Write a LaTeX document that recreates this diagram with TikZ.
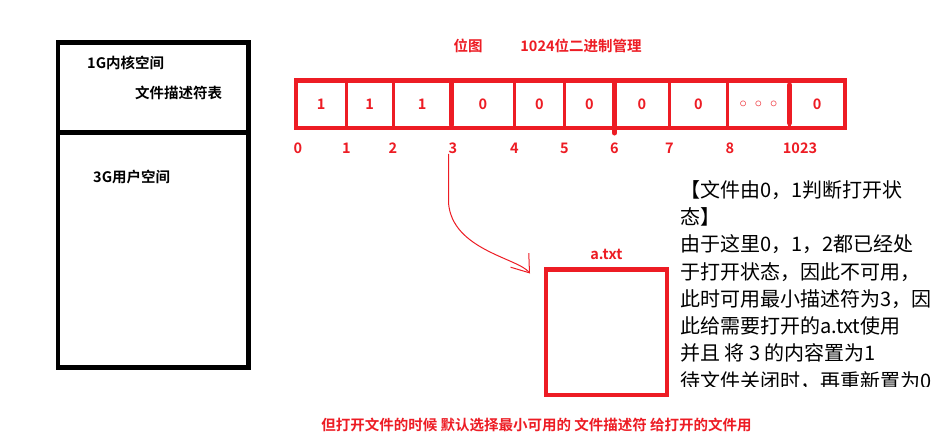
\documentclass[tikz,border=0pt]{standalone}
\usepackage{fontspec}
\newfontfamily\cjk{Noto Sans CJK SC}[BoldFont={Noto Sans CJK SC Bold}]
\usepackage{tikz}
\usetikzlibrary{positioning,arrows.meta}
\definecolor{paintred}{HTML}{ED1C24}

\tikzset{
  bit/.style={draw=paintred, line width=3pt, inner sep=0pt, outer sep=0pt,
    minimum height=47.5pt, text=paintred, font=\cjk\bfseries\fontsize{14.5}{17}\selectfont},
  idx/.style={inner sep=0pt, text=paintred, font=\cjk\bfseries\fontsize{14.5}{17}\selectfont},
  mem/.style={draw, line width=4.5pt, inner sep=0pt, outer sep=0pt, minimum width=190.5pt},
  tag/.style={inner sep=0pt, anchor=west, font=\cjk\bfseries\fontsize{14.5}{17}\selectfont},
  bar/.style={draw=paintred, line width=5pt, line cap=round},
  note/.style={inner sep=0pt, align=left, font=\cjk\fontsize{20}{27.3}\selectfont}
}

\begin{document}
\begin{tikzpicture}[x=1pt,y=-1pt]
  \useasboundingbox[fill=white] (0,0) rectangle (944,439);
  % address space
  \node[mem, minimum height=90pt, anchor=north west] (kernel) at (58,42.5) {};
  \node[mem, minimum height=235pt, below=0pt of kernel] (user) {};
  \node[tag] (kname) at (87,63) {1G内核空间};
  \node[tag] (fdtab) at (135,93) {文件描述符表};
  \node[tag] (uname) at (93,177) {3G用户空间};
  % bitmap
  \node[idx] (bmap) at (468,46) {位图};
  \node[idx] (bits) at (581,46) {1024位二进制管理};
  \node[bit, minimum width=50.5pt, anchor=north west] (b0) at (296,80.5) {1};
  \node[bit, minimum width=46.5pt, right=0pt of b0] (b1) {1};
  \node[bit, minimum width=58.5pt, right=0pt of b1] (b2) {1};
  \node[bit, minimum width=63pt, right=0pt of b2]   (b3) {0};
  \node[bit, minimum width=50pt, right=0pt of b3]   (b4) {0};
  \node[bit, minimum width=50pt, right=0pt of b4]   (b5) {0};
  \node[bit, minimum width=55pt, right=0pt of b5]   (b6) {0};
  \node[bit, minimum width=58pt, right=0pt of b6]   (b7) {0};
  \node[bit, minimum width=62pt, right=0pt of b7]   (b8) {${\circ}\;\;{\circ}\;\;{\circ}$};
  \node[bit, minimum width=55.5pt, right=0pt of b8] (b9) {0};
  \draw[paintred, line width=4.5pt] (b0.north west) rectangle (b9.south east);
  \draw[bar] ([yshift=-2.5pt]b3.north west) -- ([yshift=3pt]b3.south west);
  \draw[bar] ([yshift=-2.5pt]b6.north west) -- ([yshift=-5pt]b6.south west);
  \draw[bar] ([yshift=-4.5pt]b9.north west) -- ([yshift=5pt]b9.south west);
  \node[idx, below=14.5pt of b0.south west, xshift=2pt] (n0) {0};
  \node[idx, below=14.5pt of b1.south west] (n1) {1};
  \node[idx, below=14.5pt of b2.south west] (n2) {2};
  \node[idx, below=14.5pt of b3.south west, xshift=1.5pt] (n3) {3};
  \node[idx, below=14.5pt of b4.south west] (n4) {4};
  \node[idx, below=14.5pt of b5.south west] (n5) {5};
  \node[idx, below=14.5pt of b6.south west] (n6) {6};
  \node[idx, below=14.5pt of b7.south west] (n7) {7};
  \node[idx, below=14.5pt of b8.south west, xshift=2.5pt] (n8) {8};
  \node[idx, below=14.5pt of b9.south west, xshift=10.5pt] (n1023) {1023};
  % the file
  \node[draw=paintred, line width=4.3pt, inner sep=0pt, outer sep=0pt,
    minimum width=120.7pt, minimum height=125.5pt, anchor=north west] (atxt) at (546,269.5) {};
  \node[idx, above=9.5pt of atxt] (aname) {a.txt};
  \coordinate (tip) at (530,273.5);
  \draw[paintred, line width=1pt, -{Straight Barb[length=16pt,width=23pt]}]
    ([xshift=-4.5pt]n3.south) -- ++(0,49) .. controls (452,250) and (518,258) .. (tip);
  \begin{scope}
    \clip (660,170) rectangle (944,386.7);
    \node[note, anchor=north west] (expl) at (680,180) {【文件由0，1判断打开状\\态】\\由于这里0，1，2都已经处\\于打开状态，因此不可用，\\此时可用最小描述符为3，因\\此给需要打开的a.txt使用\\并且 将 3 的内容置为1\\待文件关闭时，再重新置为0};
  \end{scope}
  \node[idx] (rule) at (536.5,425) {但打开文件的时候 默认选择最小可用的 文件描述符 给打开的文件用};
\end{tikzpicture}
\end{document}
